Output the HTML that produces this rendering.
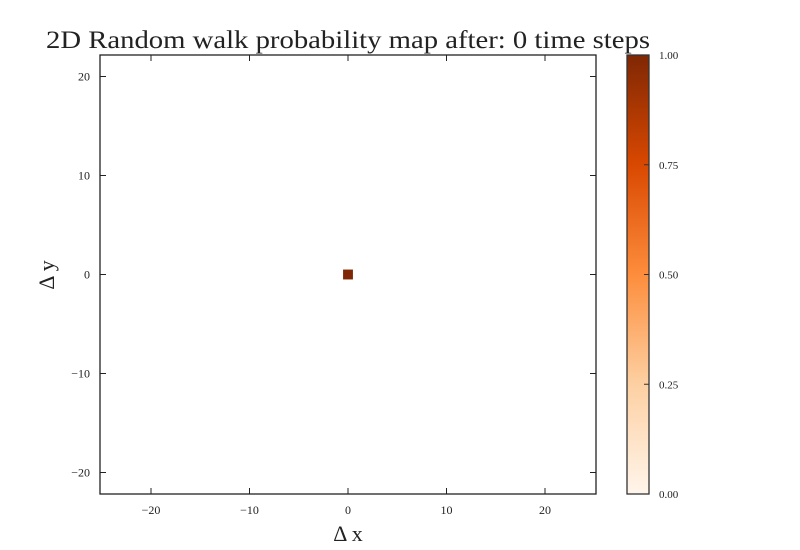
<!DOCTYPE html>
<html><head><meta charset="utf-8"><style>
html,body{margin:0;padding:0;background:#fff;}
svg{display:block;font-family:"Liberation Serif","DejaVu Serif",serif;}
</style></head><body>
<svg id="chart" width="800" height="550" viewBox="0 0 800 550">
<defs>
<linearGradient id="oranges" x1="0" y1="1" x2="0" y2="0">
<stop offset="0" stop-color="#fff5eb"/>
<stop offset="0.25" stop-color="#fdd0a2"/>
<stop offset="0.5" stop-color="#fd8d3c"/>
<stop offset="0.75" stop-color="#d94801"/>
<stop offset="1" stop-color="#7f2704"/>
</linearGradient>
</defs>
<text x="46" y="48" font-size="25" textLength="604" lengthAdjust="spacingAndGlyphs" fill="#222">2D Random walk probability map after: 0 time steps</text>
<g id="plot"></g>
<g id="cbar"></g>
</svg>
<script>
const xTicks=[-20,-10,0,10,20];
const yTicks=[-20,-10,0,10,20];
const cellX=[0];
const cellY=[0];
const cellP=[1.0];
const cbTicks=[0,0.25,0.5,0.75,1.0];

const NS="http://www.w3.org/2000/svg";
const L=100,R=596,T=55,B=494;
const sx=v=>348+v*9.85;
const sy=v=>274.5-v*9.9;
function mk(tag,attrs,parent){const e=document.createElementNS(NS,tag);for(const k in attrs)e.setAttribute(k,attrs[k]);parent.appendChild(e);return e;}
function color(p){
  const stops=[[0,[255,245,235]],[0.25,[253,208,162]],[0.5,[253,141,60]],[0.75,[217,72,1]],[1,[127,39,4]]];
  for(let i=1;i<stops.length;i++){if(p<=stops[i][0]){const a=stops[i-1],b=stops[i],t=(p-a[0])/(b[0]-a[0]);return 'rgb('+a[1].map((c,j)=>Math.round(c+(b[1][j]-c)*t)).join(',')+')';}}
  return 'rgb(127,39,4)';
}
const plot=document.getElementById('plot');
for(let i=0;i<cellP.length;i++){
  const r=mk('rect',{x:sx(cellX[i]-0.5),y:sy(cellY[i]+0.5),width:9.85,height:9.9,fill:color(cellP[i])},plot);
  
  
}
const frame=mk('rect',{x:L,y:T,width:R-L,height:B-T,fill:'none',stroke:'#222','stroke-width':1.3},plot);


xTicks.forEach(v=>{
  const x=sx(v);
  mk('line',{x1:x,x2:x,y1:B,y2:B-6,stroke:'#222'},plot);
  mk('line',{x1:x,x2:x,y1:T,y2:T+6,stroke:'#222'},plot);
  const t=mk('text',{x:x,y:B+20,'font-size':12,'text-anchor':'middle',fill:'#222'},plot);
  t.textContent=v<0?'\u2212'+(-v):String(v);
  
  
});
yTicks.forEach(v=>{
  const y=sy(v);
  mk('line',{x1:L,x2:L+6,y1:y,y2:y,stroke:'#222'},plot);
  mk('line',{x1:R,x2:R-6,y1:y,y2:y,stroke:'#222'},plot);
  const t=mk('text',{x:L-10,y:y+4,'font-size':12,'text-anchor':'end',fill:'#222'},plot);
  t.textContent=v<0?'\u2212'+(-v):String(v);
  
  
});
const xl=mk('text',{x:348,y:541,'font-size':22,'text-anchor':'middle',fill:'#222'},plot);
xl.textContent='\u0394 x';


const yl=mk('text',{x:54,y:275,'font-size':22,'text-anchor':'middle',fill:'#222',transform:'rotate(-90 54 275)'},plot);
yl.textContent='\u0394 y';



const cb=document.getElementById('cbar');
const CL=627,CR=649;
const cbs=v=>B-v*(B-T);
const cr=mk('rect',{x:CL,y:T,width:CR-CL,height:B-T,fill:'url(#oranges)',stroke:'#333','stroke-width':1.3},cb);


cbTicks.forEach(v=>{
  const y=cbs(v);
  mk('line',{x1:CR,x2:CR-5,y1:y,y2:y,stroke:'#333'},cb);
  const t=mk('text',{x:659,y:y+4,'font-size':11,fill:'#222'},cb);
  t.textContent=v.toFixed(2);
  
  
});
</script>
</body></html>
